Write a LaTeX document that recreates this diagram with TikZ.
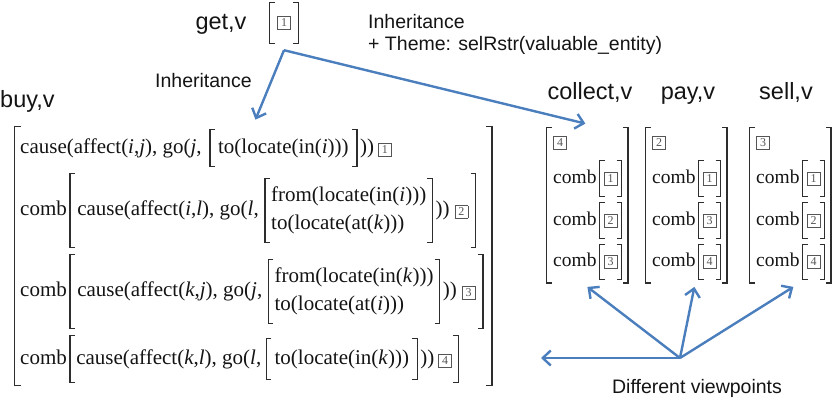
\documentclass[tikz,border=0pt]{standalone}
\usepackage{fontspec}
\setmainfont{Liberation Serif}
\newfontfamily\sansf{Liberation Sans}
\usetikzlibrary{arrows.meta,fit}
\definecolor{arrblue}{RGB}{74,126,189}
\definecolor{brkgray}{RGB}{45,45,45}
\definecolor{boxgray}{RGB}{85,85,85}
\definecolor{inkc}{RGB}{20,20,20}
\newcommand\bx[1]{{\setlength\fboxsep{0pt}\setlength\fboxrule{0.7pt}\color{boxgray}\fbox{\makebox[12.2pt]{\rule[-2.6pt]{0pt}{12.2pt}\fontsize{12}{12}\selectfont #1}}}}
\newcommand\vi[1]{\textit{#1}}
\newcommand\brk[2][5]{%
  \draw[brkline] ([xshift=#1pt]#2.north west) -- (#2.north west) -- (#2.south west) -- ([xshift=#1pt]#2.south west);
  \draw[brkline] ([xshift=-#1pt]#2.north east) -- (#2.north east) -- (#2.south east) -- ([xshift=-#1pt]#2.south east);}
\begin{document}
\begin{tikzpicture}[x=1pt,y=-1pt,
  brkline/.style={draw=brkgray, line width=1.3pt},
  arr/.style={draw=arrblue, line width=2.4pt, -{Straight Barb[length=8pt,width=15pt]}},
  txt/.style={inner sep=0pt, text height=15pt, text depth=5pt, font=\fontsize{21}{25}\selectfont, anchor=west, text=inkc},
  inb/.style={txt, inner xsep=8pt},
  two/.style={inner xsep=6pt, inner ysep=0pt, align=left, font=\fontsize{21}{28}\selectfont, anchor=west, text=inkc},
  fitbox/.style={inner sep=0pt},
  rtxt/.style={inner sep=0pt, text height=14pt, text depth=5pt, font=\fontsize{19.5}{23}\selectfont, anchor=west, text=inkc},
  rinb/.style={inner xsep=4pt, inner ysep=0pt, minimum height=35pt, anchor=west},
  ttl/.style={inner sep=0pt, font=\sansf\fontsize{23.5}{28}\selectfont, anchor=base, text=inkc},
  lab/.style={inner sep=0pt, font=\sansf\fontsize{19.5}{24}\selectfont, anchor=base west, text=inkc}]

\useasboundingbox (0,0) rectangle (837,402);

% titles and labels
\node[ttl] (get) at (221,29) {get,v};
\node[inner sep=0pt, minimum width=28pt, minimum height=40pt] (getb) at (284,23) {\bx{1}};
\brk{getb}
\node[ttl, anchor=base west] (buy) at (0,107) {buy,v};
\node[lab] (inhL) at (155,87) {Inheritance};
\node[lab] (inhR) at (368,28) {Inheritance};
\node[lab] (theme) at (368,50) {+ Theme: selRstr(valuable\_entity)};

% buy row 1
\node[txt] (r1a) at (20,148) {cause(affect(\vi{i},\vi{j}), go(\vi{j},};
\node[inb, minimum height=36pt] (r1b) at ([xshift=8pt]r1a.east) {to(locate(in(\vi{i})))};
\node[txt] (r1c) at ([xshift=3pt]r1b.east) {))\hspace{4pt}\bx{1}};
\brk{r1b}

% buy row 2
\node[txt] (r2m) at (20,210.5) {comb};
\node[txt] (r2a) at ([xshift=10pt]r2m.east) {cause(affect(\vi{i},\vi{l}), go(\vi{l},};
\node[two, minimum height=64pt] (r2b) at ([xshift=6pt]r2a.east) {from(locate(in(\vi{i})))\\to(locate(at(\vi{k})))};
\node[txt] (r2c) at ([xshift=3pt]r2b.east) {))\hspace{5pt}\bx{2}};
\node[fitbox, fit=(r2a)(r2b)(r2c), inner xsep=7pt, inner ysep=4.5pt] (r2o) {};
\brk{r2b}
\brk{r2o}

% buy row 3
\node[txt] (r3m) at (20,291.5) {comb};
\node[txt] (r3a) at ([xshift=10pt]r3m.east) {cause(affect(\vi{k},\vi{j}), go(\vi{j},};
\node[two, minimum height=64pt] (r3b) at ([xshift=6pt]r3a.east) {from(locate(in(\vi{k})))\\to(locate(at(\vi{i})))};
\node[txt] (r3c) at ([xshift=3pt]r3b.east) {))\hspace{5pt}\bx{3}};
\node[fitbox, fit=(r3a)(r3b)(r3c), inner xsep=7pt, inner ysep=4.5pt] (r3o) {};
\brk{r3b}
\brk{r3o}

% buy row 4
\node[txt] (r4m) at (20,359) {comb};
\node[txt] (r4a) at ([xshift=9pt]r4m.east) {cause(affect(\vi{k},\vi{l}), go(\vi{l},};
\node[inb, minimum height=40pt] (r4b) at ([xshift=5pt]r4a.east) {to(locate(in(\vi{k})))};
\node[txt] (r4c) at ([xshift=3pt]r4b.east) {))\hspace{4pt}\bx{4}};
\node[fitbox, fit=(r4a)(r4b)(r4c), inner xsep=6pt, inner ysep=3pt] (r4o) {};
\brk{r4b}
\brk{r4o}

% buy outer
\coordinate (bl) at ([xshift=-5pt]r1a.west);
\coordinate (br) at ([xshift=9pt]r3o.east);
\node[fitbox, fit=(r1b)(r2o)(r3o)(r4o)(bl)(br), inner xsep=0pt, inner ysep=3pt] (buym) {};
\brk[6]{buym}

% collect
\node[ttl] (collect) at (590,99) {collect,v};
\node[rtxt, minimum height=22pt] (c0) at (553,142) {\bx{4}};
\node[rtxt] (c1) at (553,178.5) {comb};
\node[rinb] (c1b) at ([xshift=3pt]c1.east) {\bx{1}};
\node[rtxt] (c2) at (553,220.5) {comb};
\node[rinb] (c2b) at ([xshift=3pt]c2.east) {\bx{2}};
\node[rtxt] (c3) at (553,262) {comb};
\node[rinb] (c3b) at ([xshift=3pt]c3.east) {\bx{3}};
\node[fitbox, fit=(c0)(c1)(c3b), inner xsep=6pt, inner ysep=3pt] (collectm) {};
\brk{c1b}\brk{c2b}\brk{c3b}\brk{collectm}

% pay
\node[ttl] (pay) at (688,99) {pay,v};
\node[rtxt, minimum height=22pt] (p0) at (652,142) {\bx{2}};
\node[rtxt] (p1) at (652,178.5) {comb};
\node[rinb] (p1b) at ([xshift=3pt]p1.east) {\bx{1}};
\node[rtxt] (p2) at (652,220.5) {comb};
\node[rinb] (p2b) at ([xshift=3pt]p2.east) {\bx{3}};
\node[rtxt] (p3) at (652,262) {comb};
\node[rinb] (p3b) at ([xshift=3pt]p3.east) {\bx{4}};
\node[fitbox, fit=(p0)(p1)(p3b), inner xsep=6pt, inner ysep=3pt] (paym) {};
\brk{p1b}\brk{p2b}\brk{p3b}\brk{paym}

% sell
\node[ttl] (sell) at (786,99) {sell,v};
\node[rtxt, minimum height=22pt] (s0) at (756,142) {\bx{3}};
\node[rtxt] (s1) at (756,178.5) {comb};
\node[rinb] (s1b) at ([xshift=3pt]s1.east) {\bx{1}};
\node[rtxt] (s2) at (756,220.5) {comb};
\node[rinb] (s2b) at ([xshift=3pt]s2.east) {\bx{2}};
\node[rtxt] (s3) at (756,262) {comb};
\node[rinb] (s3b) at ([xshift=3pt]s3.east) {\bx{4}};
\node[fitbox, fit=(s0)(s1)(s3b), inner xsep=6pt, inner ysep=3pt] (sellm) {};
\brk{s1b}\brk{s2b}\brk{s3b}\brk{sellm}

% inheritance arrows
\coordinate (gs) at ([yshift=-7pt]getb.south);
\draw[arr] (gs) -- ([xshift=2pt,yshift=7pt]buym.north);
\draw[arr] (gs) -- ([xshift=-2pt,yshift=4pt]collectm.north);

% viewpoints
\node[lab, anchor=base] (dv) at (697,393) {Different viewpoints};
\coordinate (vp) at (680,358);
\coordinate (t0) at (541,358);
\draw[arr] (vp) -- (t0);
\draw[arr] (vp) -- ([yshift=-4pt]collectm.south);
\draw[arr] (vp) -- ([xshift=8pt,yshift=-4pt]paym.south);
\draw[arr] (vp) -- ([xshift=3pt,yshift=-4pt]sellm.south);
\end{tikzpicture}
\end{document}
